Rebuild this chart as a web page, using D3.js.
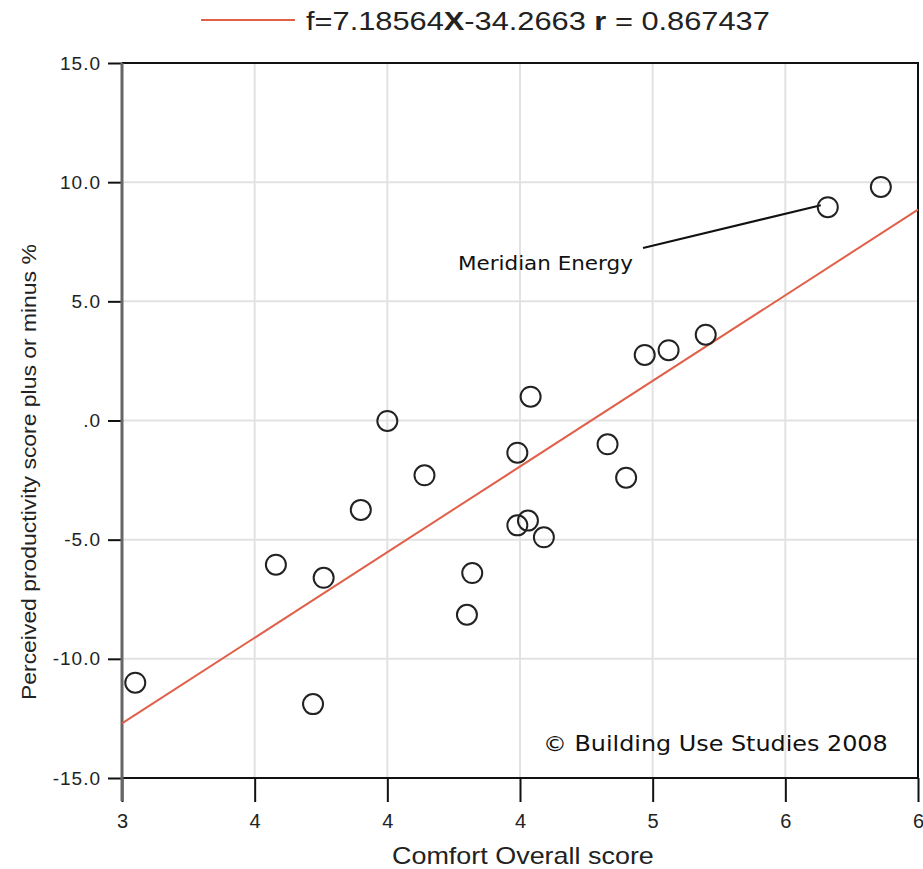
<!DOCTYPE html>
<html><head><meta charset="utf-8">
<script src="https://cdn.jsdelivr.net/npm/d3@7"></script>
<style>body{margin:0;background:#fff}</style>
</head><body>
<svg id="c" width="923" height="869"></svg>
<script>
const xTicks = [3, 3.5, 4, 4.5, 5, 5.5, 6];
const xTickLabels = ["3","4","4","4","5","6","6"];
const yTicks = [15, 10, 5, 0, -5, -10, -15];
const yTickLabels = ["15.0","10.0","5.0",".0","-5.0","-10.0","-15.0"];
const comfort = [3.05,3.58,3.72,3.76,3.90,4.00,4.14,4.30,4.32,4.49,4.49,4.53,4.54,4.59,4.83,4.90,4.97,5.06,5.20,5.66,5.86];
const productivity = [-11.0,-6.05,-11.9,-6.6,-3.75,-0.02,-2.3,-8.15,-6.4,-1.35,-4.4,-4.2,1.0,-4.9,-1.0,-2.4,2.75,2.95,3.6,8.95,9.8];
const slope = 7.18564, intercept = -34.2663, rValue = 0.867437;
const annotationLabel = "Meridian Energy";
const annotationIndex = 19;

const svg = d3.select("#c");
const L = 122, R = 918, T = 63, B = 778;
const x = d3.scaleLinear().domain([3, 6]).range([L, R]);
const y = d3.scaleLinear().domain([-15, 15]).range([B, T]);
const sans = "Liberation Sans, Arial, Helvetica";

function stretch(sel, x0, y0, w, rot) {
  const n = sel.node().getComputedTextLength();
  sel.attr("x", 0).attr("y", 0)
    .attr("transform", `translate(${x0},${y0}) rotate(${rot || 0}) scale(${w / n},1)`);
}

// grid
svg.append("g").selectAll("line").data(xTicks.slice(1, -1)).join("line")
  .attr("x1", d => x(d)).attr("x2", d => x(d)).attr("y1", T).attr("y2", B)
  .attr("stroke", "#e2e2e2").attr("stroke-width", 2);
svg.append("g").selectAll("line").data(yTicks.slice(1, -1)).join("line")
  .attr("x1", L).attr("x2", R).attr("y1", d => y(d)).attr("y2", d => y(d))
  .attr("stroke", "#e2e2e2").attr("stroke-width", 2);

// border top/right/bottom
svg.append("path").attr("d", `M${L},${T}H${R}V${B}H${L}`).attr("fill", "none")
  .attr("stroke", "#111").attr("stroke-width", 2);

// x axis
const xAxis = d3.axisBottom(x).tickValues(xTicks).tickSize(24).tickSizeOuter(0)
  .tickFormat((d, i) => xTickLabels[i]).tickPadding(12);
const gx = svg.append("g").attr("transform", `translate(0,${B})`).call(xAxis);
gx.select(".domain").remove();
gx.selectAll(".tick line").attr("stroke", "#111").attr("stroke-width", 2);
gx.selectAll("text").attr("font-family", sans).attr("font-size", 20).attr("fill", "#222");

// y axis
const yAxis = d3.axisLeft(y).tickValues(yTicks).tickSize(14).tickSizeOuter(0)
  .tickFormat((d, i) => yTickLabels[i]).tickPadding(7);
const gy = svg.append("g").attr("transform", `translate(${L},0)`).call(yAxis);
gy.select(".domain").remove();
gy.selectAll(".tick line").attr("stroke", "#111").attr("stroke-width", 2);
gy.selectAll("text").attr("font-family", sans).attr("font-size", 19)
  .attr("letter-spacing", 1).attr("fill", "#222");
svg.append("line").attr("x1", L).attr("x2", L).attr("y1", T).attr("y2", B + 23)
  .attr("stroke", "#666").attr("stroke-width", 3);

// regression line
svg.append("line").attr("x1", x(3)).attr("y1", y(slope * 3 + intercept))
  .attr("x2", x(6)).attr("y2", y(slope * 6 + intercept))
  .attr("stroke", "#e0604a").attr("stroke-width", 2);

// annotation leader
const ax = comfort[annotationIndex], ay = productivity[annotationIndex];
svg.append("line").attr("x1", x(ax) - 7).attr("y1", y(ay) - 2)
  .attr("x2", 643).attr("y2", 248).attr("stroke", "#111").attr("stroke-width", 2);
const mt = svg.append("text").text(annotationLabel)
  .attr("font-family", "DejaVu Sans").attr("font-size", 19).attr("fill", "#111");
stretch(mt, 458, 270, 175);

// points
svg.append("g").selectAll("circle").data(comfort).join("circle")
  .attr("cx", d => x(d)).attr("cy", (d, i) => y(productivity[i])).attr("r", 10)
  .attr("fill", "none").attr("stroke", "#222").attr("stroke-width", 2);

// copyright
const ct = svg.append("text").text("© Building Use Studies 2008")
  .attr("font-family", "DejaVu Sans").attr("font-size", 22).attr("fill", "#111");
stretch(ct, 543, 751, 345);

// axis titles
const xt = svg.append("text").text("Comfort Overall score").attr("font-family", sans)
  .attr("font-size", 23).attr("fill", "#222");
stretch(xt, 392, 864, 262);
const yt = svg.append("text").text("Perceived productivity score plus or minus %")
  .attr("font-family", sans).attr("font-size", 21).attr("fill", "#222");
stretch(yt, 36, 700, 456, -90);

// legend / title
svg.append("line").attr("x1", 201).attr("x2", 295).attr("y1", 20).attr("y2", 20)
  .attr("stroke", "#e0604a").attr("stroke-width", 2);
const t = svg.append("text")
  .attr("font-family", sans).attr("font-size", 25).attr("fill", "#222");
t.append("tspan").text("f=" + slope);
t.append("tspan").attr("font-weight", "bold").text("X");
t.append("tspan").text(String(intercept) + " ");
t.append("tspan").attr("font-weight", "bold").text("r");
t.append("tspan").text(" = " + rValue);
stretch(t, 306, 30, 464);
</script>
</body></html>
